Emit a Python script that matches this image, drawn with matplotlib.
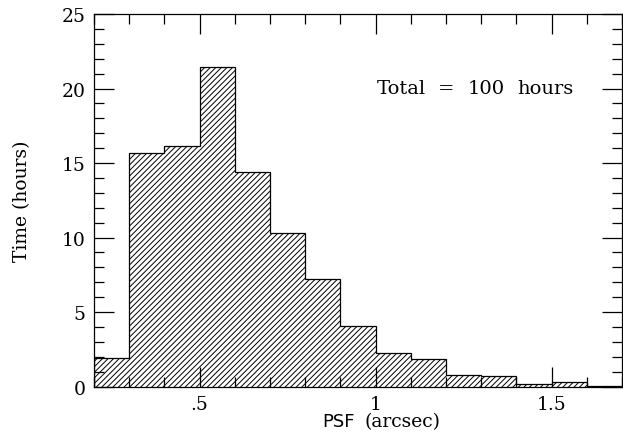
import numpy as np
import matplotlib.pyplot as plt
from matplotlib.ticker import MultipleLocator, FixedLocator, FixedFormatter

# PSF histogram, 0.1 arcsec bins from 0.2 to 1.7
bin_edges = [0.2, 0.3, 0.4, 0.5, 0.6, 0.7, 0.8, 0.9, 1.0, 1.1, 1.2, 1.3, 1.4, 1.5, 1.6, 1.7]
hours = [1.93, 15.7, 16.15, 21.45, 14.4, 10.3, 7.2, 4.05, 2.26, 1.86, 0.76, 0.69, 0.15, 0.34, 0.07]
xtick_vals = [0.5, 1.0, 1.5]
xtick_labels = [".5", "1", "1.5"]
note_words = ["Total", "=", "100", "hours"]
note_x = [1.004, 1.177, 1.262, 1.403]

plt.rcParams['hatch.linewidth'] = 0.7
serif = "DejaVu Serif"
lw = 0.9

fig = plt.figure(figsize=(6.23, 4.39), dpi=100)
ax = fig.add_axes([94/623, 1 - 387.6/439, (622-94)/623, (387.6-15)/439])

ax.stairs(hours, bin_edges, fill=False, hatch="//////", edgecolor="black", linewidth=lw)

ax.set_xlim(0.2, 1.7)
ax.set_ylim(0, 25)

ax.xaxis.set_major_locator(FixedLocator(xtick_vals))
ax.xaxis.set_major_formatter(FixedFormatter(xtick_labels))
ax.xaxis.set_minor_locator(MultipleLocator(0.1))
ax.yaxis.set_major_locator(MultipleLocator(5))
ax.yaxis.set_minor_locator(MultipleLocator(1))

ax.tick_params(which="both", direction="in", top=True, right=True, width=lw)
ax.tick_params(which="major", length=14.5, labelsize=13.5, pad=6)
ax.tick_params(which="minor", length=7.5)
for lbl in ax.get_xticklabels() + ax.get_yticklabels():
    lbl.set_family(serif)
for s in ax.spines.values():
    s.set_linewidth(lw)

ax.set_ylabel("Time (hours)", fontsize=13.5, family=serif, labelpad=22)
fig.text(0.5 * (94 + 622) / 623 - 0.005, 1 - 427/439, "PSF", fontsize=13,
         family="DejaVu Sans", ha="right", va="baseline")
fig.text(0.5 * (94 + 622) / 623 + 0.01, 1 - 427/439, "(arcsec)", fontsize=13.5,
         family=serif, ha="left", va="baseline")

for word, x in zip(note_words, note_x):
    ax.text(x, 20.05, word, fontsize=14, family=serif, ha="left", va="center")

fig.savefig("out.png", dpi=100)
